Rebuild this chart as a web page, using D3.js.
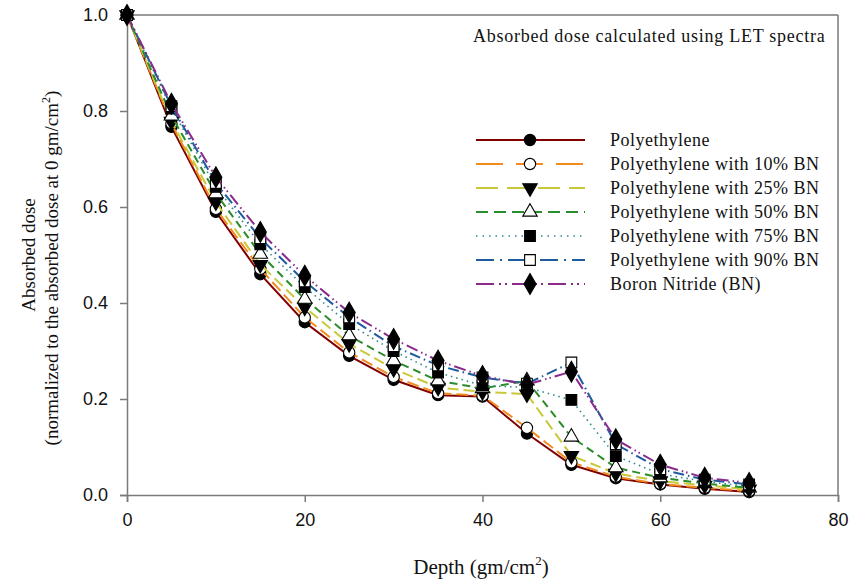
<!DOCTYPE html>
<html>
<head>
<meta charset="utf-8">
<script src="https://cdn.jsdelivr.net/npm/d3@7"></script>
<style>
  html, body { margin: 0; padding: 0; background: #fff; }
  svg { display: block; }
</style>
</head>
<body>
<svg id="chart" width="851" height="582"></svg>
<script>
// Depth in gm/cm^2
const depths = [0, 5, 10, 15, 20, 25, 30, 35, 40, 45, 50, 55, 60, 65, 70];

// Absorbed dose normalized to the dose at 0 gm/cm^2
const polyethylene = [1.0, 0.767, 0.590, 0.460, 0.360, 0.290, 0.240, 0.208, 0.205, 0.128, 0.063, 0.035, 0.022, 0.013, 0.006];
const pe10BN       = [1.0, 0.774, 0.596, 0.471, 0.370, 0.297, 0.246, 0.212, 0.207, 0.140, 0.068, 0.038, 0.023, 0.015, 0.008];
const pe25BN       = [1.0, 0.778, 0.610, 0.480, 0.391, 0.315, 0.263, 0.224, 0.215, 0.210, 0.082, 0.045, 0.029, 0.020, 0.012];
const pe50BN       = [1.0, 0.790, 0.628, 0.502, 0.408, 0.332, 0.280, 0.238, 0.222, 0.238, 0.121, 0.057, 0.036, 0.024, 0.015];
const pe75BN       = [1.0, 0.805, 0.642, 0.522, 0.433, 0.356, 0.300, 0.255, 0.228, 0.224, 0.198, 0.081, 0.044, 0.028, 0.018];
const pe90BN       = [1.0, 0.810, 0.650, 0.535, 0.445, 0.370, 0.310, 0.270, 0.245, 0.232, 0.276, 0.106, 0.054, 0.032, 0.022];
const boronNitride = [1.0, 0.815, 0.662, 0.548, 0.457, 0.380, 0.325, 0.280, 0.248, 0.230, 0.257, 0.116, 0.063, 0.036, 0.025];

const seriesNames = [
  "Polyethylene",
  "Polyethylene with 10% BN",
  "Polyethylene with 25% BN",
  "Polyethylene with 50% BN",
  "Polyethylene with 75% BN",
  "Polyethylene with 90% BN",
  "Boron Nitride (BN)"
];
const seriesValues = [polyethylene, pe10BN, pe25BN, pe50BN, pe75BN, pe90BN, boronNitride];

const xTicks = [0, 20, 40, 60, 80];
const yTicks = [0.0, 0.2, 0.4, 0.6, 0.8, 1.0];

// line + symbol styling per series
const styles = [
  { color: "#800000", dash: null,                    legendDash: null,                    width: 2,   symbol: d3.symbolCircle,   fill: "#000", size: 100 },
  { color: "#F28A1E", dash: "12,5",                  legendDash: "27,13",                 width: 2,   symbol: d3.symbolCircle,   fill: "#fff", size: 100 },
  { color: "#C9C83A", dash: "11,5",                  legendDash: "22,9",                  width: 2,   symbol: d3.symbolTriangle, fill: "#000", size: 90, rotate: 180 },
  { color: "#2A8C2A", dash: "8,5",                   legendDash: "12,6",                  width: 2,   symbol: d3.symbolTriangle, fill: "#fff", size: 90 },
  { color: "#2E8A8E", dash: "1.5,4",                 legendDash: "1.5,5",                 width: 1.6, symbol: d3.symbolSquare,   fill: "#000", size: 115 },
  { color: "#1F5C9E", dash: "11,4,1.5,4",            legendDash: "18,6,2,6",              width: 2,   symbol: d3.symbolSquare,   fill: "#fff", size: 115 },
  { color: "#8A2A8A", dash: "12,4,1.5,3,1.5,4",      legendDash: "18,5,2,4,2,5",          width: 2,   symbol: d3.symbolDiamond,  fill: "#000", size: 125 }
];

const svg = d3.select("#chart");
const x = d3.scaleLinear().domain([0, 80]).range([127, 838]);
const y = d3.scaleLinear().domain([0, 1]).range([495, 15]);

const axisColor = "#7a7a7a";
const serif = "'Liberation Serif', 'Times New Roman', serif";

// frame: top and right edges
svg.append("line").attr("x1", x(0)).attr("x2", x(80)).attr("y1", y(1)).attr("y2", y(1))
  .attr("stroke", axisColor).attr("stroke-width", 1.5);
svg.append("line").attr("x1", x(80)).attr("x2", x(80)).attr("y1", y(1)).attr("y2", y(0))
  .attr("stroke", axisColor).attr("stroke-width", 1.5);

// axes
const xAxis = svg.append("g").attr("transform", `translate(0,${y(0)})`)
  .call(d3.axisBottom(x).tickValues(xTicks).tickFormat(d3.format("d")).tickSize(7).tickPadding(11));
const yAxis = svg.append("g").attr("transform", `translate(${x(0)},0)`)
  .call(d3.axisLeft(y).tickValues(yTicks).tickFormat(d3.format(".1f")).tickSize(7).tickPadding(12));

[xAxis, yAxis].forEach(g => {
  g.select(".domain").attr("stroke", axisColor).attr("stroke-width", 1.5);
  g.selectAll(".tick line").attr("stroke", axisColor).attr("stroke-width", 1.5);
  g.selectAll(".tick text").attr("fill", "#111")
    .style("font-family", "'Liberation Sans', Arial, sans-serif").style("font-size", "18px");
});

// series: line, then symbols
const line = d3.line().x((d, i) => x(depths[i])).y(d => y(d));

seriesValues.forEach((vals, k) => {
  const s = styles[k];
  const g = svg.append("g");
  g.append("path").datum(vals).attr("d", line)
    .attr("fill", "none").attr("stroke", s.color).attr("stroke-width", s.width)
    .attr("stroke-dasharray", s.dash);
  g.selectAll("path.sym").data(vals).enter().append("path")
    .attr("class", "sym")
    .attr("d", d3.symbol().type(s.symbol).size(s.size))
    .attr("transform", (d, i) => `translate(${x(depths[i])},${y(d)})` + (s.rotate ? ` rotate(${s.rotate})` : ""))
    .attr("fill", s.fill).attr("stroke", "#000").attr("stroke-width", 1.1);
});

// legend
const legend = svg.append("g");
const legendY0 = 140, legendStep = 24;
seriesNames.forEach((name, k) => {
  const s = styles[k];
  const ly = legendY0 + k * legendStep;
  legend.append("line").attr("x1", 476).attr("x2", 585).attr("y1", ly).attr("y2", ly)
    .attr("stroke", s.color).attr("stroke-width", s.width).attr("stroke-dasharray", s.legendDash);
  legend.append("path")
    .attr("d", d3.symbol().type(s.symbol).size(s.size))
    .attr("transform", `translate(530,${ly})` + (s.rotate ? ` rotate(${s.rotate})` : ""))
    .attr("fill", s.fill).attr("stroke", "#000").attr("stroke-width", 1.1);
  legend.append("text").attr("x", 610).attr("y", ly + 6)
    .style("font-family", serif).style("font-size", "18px").style("letter-spacing", "0.5px")
    .attr("fill", "#111").text(name);
});

// annotation
svg.append("text").attr("x", 473).attr("y", 42)
  .style("font-family", serif).style("font-size", "18px").style("letter-spacing", "0.75px")
  .attr("fill", "#111").text("Absorbed dose calculated using LET spectra");

// axis titles
const xt = svg.append("text").attr("x", 481).attr("y", 574).attr("text-anchor", "middle")
  .style("font-family", serif).style("font-size", "21px").attr("fill", "#111");
xt.append("tspan").text("Depth (gm/cm");
xt.append("tspan").attr("dy", -9).style("font-size", "13px").text("2");
xt.append("tspan").attr("dy", 9).text(")");

svg.append("text").attr("transform", "translate(35,255) rotate(-90)").attr("text-anchor", "middle")
  .style("font-family", serif).style("font-size", "19px").attr("fill", "#111").text("Absorbed dose");
const yt2 = svg.append("text").attr("transform", "translate(58,268) rotate(-90)").attr("text-anchor", "middle")
  .style("font-family", serif).style("font-size", "19px").attr("fill", "#111");
yt2.append("tspan").text("(normalized to the absorbed dose at 0 gm/cm");
yt2.append("tspan").attr("dy", -8).style("font-size", "12px").text("2");
yt2.append("tspan").attr("dy", 8).text(")");
</script>
</body>
</html>
